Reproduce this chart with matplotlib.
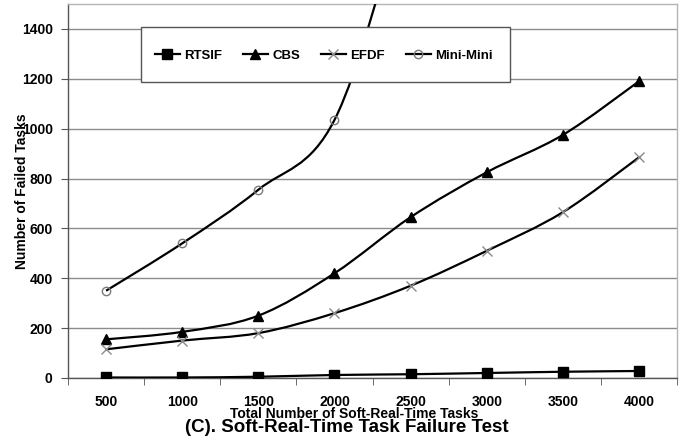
import numpy as np
import matplotlib
matplotlib.use("Agg")
import matplotlib.pyplot as plt
from matplotlib.path import Path
from matplotlib.patches import PathPatch, Rectangle
from matplotlib.lines import Line2D

plt.rcParams['font.family'] = ['Liberation Sans', 'DejaVu Sans']
plt.rcParams['font.weight'] = 'bold'

# data
task_counts = ['500', '1000', '1500', '2000', '2500', '3000', '3500', '4000']
rtsif = [2, 2, 5, 12, 15, 20, 25, 28]
cbs = [155, 185, 250, 420, 645, 825, 975, 1190]
efdf = [115, 150, 180, 260, 370, 510, 665, 885]
mini_mini = [350, 540, 755, 1035, 1950, 2700]


def smooth_path(ys):
    """Excel style smoothed line as cubic bezier segments"""
    xs = np.arange(len(ys), dtype=float)
    pts = np.column_stack([xs, np.asarray(ys, dtype=float)])
    verts = [pts[0]]
    codes = [Path.MOVETO]
    n = len(pts)
    for i in range(n - 1):
        p_prev = pts[max(i - 1, 0)]
        p0 = pts[i]
        p1 = pts[i + 1]
        p_next = pts[min(i + 2, n - 1)]
        c1 = p0 + (p1 - p_prev) / 6.0
        c2 = p1 - (p_next - p0) / 6.0
        verts += [c1, c2, p1]
        codes += [Path.CURVE4] * 3
    return Path(verts, codes)


fig = plt.figure(figsize=(6.83, 4.41), dpi=100)
ax = fig.add_axes([0.0996, 0.1429, 0.8917, 0.848])

series = [
    ('RTSIF', rtsif, dict(marker='s', markersize=7, markerfacecolor='black',
                          markeredgecolor='black')),
    ('CBS', cbs, dict(marker='^', markersize=7, markerfacecolor='black',
                      markeredgecolor='black')),
    ('EFDF', efdf, dict(marker='x', markersize=7, markeredgecolor='#8a8a8a',
                        markeredgewidth=1.0)),
    ('Mini-Mini', mini_mini, dict(marker='o', markersize=6,
                                  markerfacecolor='none',
                                  markeredgecolor='#7a7a7a',
                                  markeredgewidth=1.0)),
]

handles = []
for name, ys, mstyle in series:
    patch = PathPatch(smooth_path(ys), facecolor='none', edgecolor='black',
                      lw=1.6, transform=ax.transData, zorder=3)
    ax.add_patch(patch)
    ax.plot(np.arange(len(ys)), ys, linestyle='none', zorder=3.5, **mstyle)
    handles.append(Line2D([], [], color='black', lw=1.6, label=name, **mstyle))

ax.set_xlim(-0.5, len(task_counts) - 0.5)
ax.set_ylim(0, 1500)

ax.set_xticks(np.arange(len(task_counts)))
ax.set_xticklabels(task_counts)
ax.set_xticks(np.arange(len(task_counts) + 1) - 0.5, minor=True)
ax.tick_params(axis='x', which='major', length=0, pad=12, labelsize=10)
ax.tick_params(axis='x', which='minor', length=5, direction='out',
               color='#555555')
ax.set_yticks(np.arange(0, 1401, 200))
ax.tick_params(axis='y', length=5, direction='out', color='#555555',
               pad=6, labelsize=10)

ax.grid(axis='y', color='#8c8c8c', lw=1.0, zorder=1)
ax.set_axisbelow(True)

for side in ['left', 'bottom']:
    ax.spines[side].set_color('#555555')
    ax.spines[side].set_linewidth(1.0)
for side in ['top', 'right']:
    ax.spines[side].set_color('#b5b5b5')
    ax.spines[side].set_linewidth(1.0)

ax.set_ylabel('Number of Failed Tasks', fontsize=10, fontweight='bold')
ax.yaxis.set_label_coords(-0.064, 0.5)
ax.set_xlabel('Total Number of Soft-Real-Time Tasks', fontsize=10,
              fontweight='bold')
ax.xaxis.set_label_coords(0.47, -0.077)

# legend box covering the grid and the Mini-Mini line
box = Rectangle((0.119, 0.791), 0.606, 0.147, transform=ax.transAxes,
                facecolor='white', edgecolor='#555555', lw=1.0, zorder=4)
ax.add_patch(box)
ax.legend(handles=handles, loc='center', bbox_to_anchor=(0.42, 0.862),
          ncol=4, frameon=False, fontsize=9.5, handlelength=1.9,
          handletextpad=0.35, columnspacing=1.55, borderaxespad=0)

fig.text(0.508, 0.0295, '(C). Soft-Real-Time Task Failure Test',
         ha='center', va='center', fontsize=13.5, fontweight='bold')

fig.savefig('out.png', dpi=100)
